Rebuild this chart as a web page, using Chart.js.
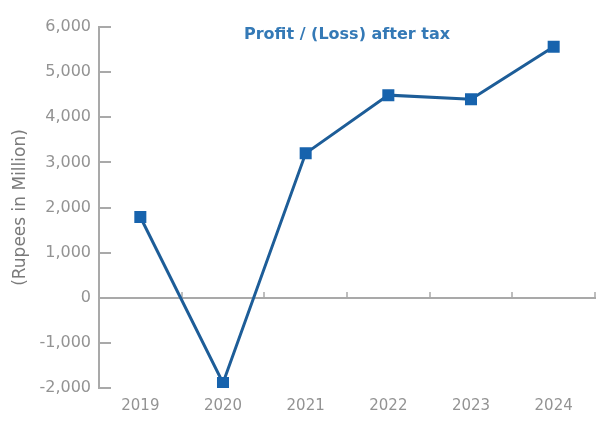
<!DOCTYPE html>
<html>
<head>
<meta charset="utf-8">
<script src="https://cdn.jsdelivr.net/npm/chart.js@4"></script>
<style>
  html, body { margin: 0; padding: 0; background: #fff; }
  #wrap { width: 604px; height: 429px; position: relative; }
</style>
</head>
<body>
<div id="wrap"><canvas id="chart"></canvas></div>
<script>
// Profit / (Loss) after tax, Rupees in Million
const years = ['2019', '2020', '2021', '2022', '2023', '2024'];
const profitAfterTax = [1790, -1890, 3200, 4490, 4400, 5560];
const yTicks = [-2000, -1000, 0, 1000, 2000, 3000, 4000, 5000, 6000];

const axisGrey = '#a9a9a9';
const labelGrey = '#939393';
const labelFont = '"DejaVu Sans", "Liberation Sans", sans-serif';

// axis decorations: inner tick marks on the y axis, zero line with category ticks, chart heading
const axisDecor = {
  id: 'axisDecor',
  beforeDatasetsDraw(chart) {
    const { ctx, chartArea, scales } = chart;
    const y = scales.y, x = scales.x;
    ctx.save();
    ctx.strokeStyle = axisGrey;
    ctx.lineWidth = 2;

    // short ticks pointing into the plot
    yTicks.forEach(v => {
      const py = Math.round(y.getPixelForValue(v));
      ctx.beginPath();
      ctx.moveTo(chartArea.left, py);
      ctx.lineTo(chartArea.left + 12, py);
      ctx.stroke();
    });

    // zero line
    const zy = Math.round(y.getPixelForValue(0));
    ctx.beginPath();
    ctx.moveTo(chartArea.left, zy);
    ctx.lineTo(chartArea.right + 1, zy);
    ctx.stroke();

    // small marks between the years
    ctx.lineWidth = 1.5;
    for (let i = 1; i <= years.length; i++) {
      const px = Math.round(x.getPixelForValue(i - 0.5));
      ctx.beginPath();
      ctx.moveTo(px, zy - 6);
      ctx.lineTo(px, zy);
      ctx.stroke();
    }
    ctx.restore();
  },
  afterDraw(chart) {
    const { ctx, chartArea } = chart;
    ctx.save();
    ctx.font = 'bold 16px ' + labelFont;
    ctx.fillStyle = '#3479b6';
    ctx.textAlign = 'center';
    ctx.textBaseline = 'middle';
    ctx.fillText('Profit / (Loss) after tax', (chartArea.left + chartArea.right) / 2, 35);
    ctx.restore();
  }
};

new Chart(document.getElementById('chart'), {
  type: 'line',
  data: {
    labels: years,
    datasets: [{
      label: 'Profit / (Loss) after tax',
      data: profitAfterTax,
      borderColor: '#1d5d98',
      borderWidth: 3,
      pointStyle: 'rect',
      pointRadius: 8.5,
      pointBackgroundColor: '#1763ad',
      pointBorderColor: '#1763ad',
      pointBorderWidth: 0,
      tension: 0
    }]
  },
  options: {
    responsive: true,
    maintainAspectRatio: false,
    animation: false,
    layout: { padding: { top: 27, right: 9, left: 10, bottom: 0 } },
    plugins: {
      legend: { display: false },
      tooltip: { enabled: false }
    },
    scales: {
      x: {
        offset: true,
        grid: { display: false },
        border: { display: false },
        afterFit(scale) { scale.height = 41; },
        ticks: {
          color: labelGrey,
          padding: 1,
          font: { family: labelFont, size: 15 }
        }
      },
      y: {
        min: -2000,
        max: 6000,
        afterBuildTicks(scale) {
          scale.ticks = yTicks.map(v => ({ value: v }));
        },
        afterFit(scale) { scale.width = 89; },
        grid: { display: false, drawTicks: false },
        border: { display: true, color: axisGrey, width: 2 },
        ticks: {
          color: labelGrey,
          padding: 8,
          font: { family: labelFont, size: 16 },
          callback: v => v.toLocaleString('en-US')
        },
        title: {
          display: true,
          text: '(Rupees in Million)',
          color: '#7a7a7a',
          padding: { top: 0, bottom: 0 },
          font: { family: labelFont, size: 17 }
        }
      }
    }
  },
  plugins: [axisDecor]
});
</script>
</body>
</html>
